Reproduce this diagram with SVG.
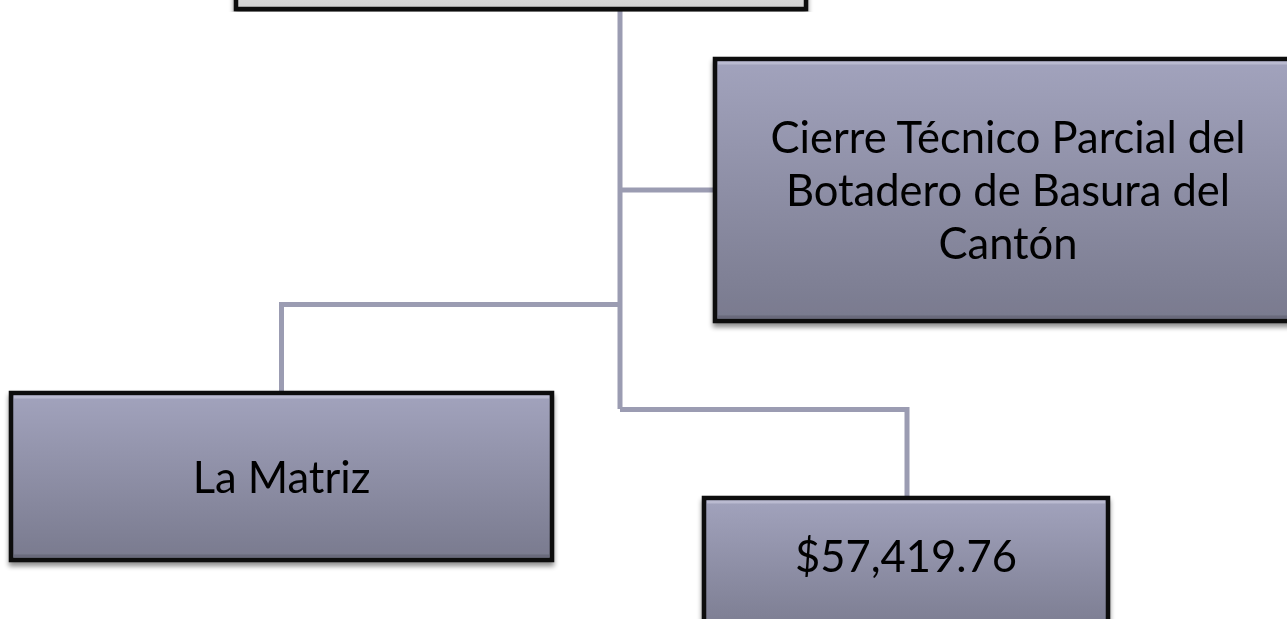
<svg xmlns="http://www.w3.org/2000/svg" width="1287" height="619" viewBox="0 0 1287 619">
<defs>
<linearGradient id="g" x1="0" y1="0" x2="0" y2="1">
<stop offset="0" stop-color="#a2a3bd"/>
<stop offset="1" stop-color="#797a8e"/>
</linearGradient>
<linearGradient id="gt" x1="0" y1="0" x2="0" y2="1">
<stop offset="0" stop-color="#e2e2e2"/>
<stop offset="1" stop-color="#d2d2d2"/>
</linearGradient>
<filter id="sh" x="-5%" y="-5%" width="112%" height="115%">
<feGaussianBlur in="SourceAlpha" stdDeviation="2.5"/>
<feOffset dx="0" dy="4" result="b"/>
<feComponentTransfer><feFuncA type="linear" slope="0.45"/></feComponentTransfer>
<feMerge><feMergeNode/><feMergeNode in="SourceGraphic"/></feMerge>
</filter>
</defs>
<style>
.box{fill:url(#g);stroke:#0a0a0a;stroke-width:4.5}
.bev{fill:none;stroke:#c4c5d8;stroke-width:3;opacity:0.7}
.bevb{fill:none;stroke:#5f6070;stroke-width:3;opacity:0.6}
.lbl{font-family:Lato,"Liberation Sans",sans-serif;font-size:43.5px;fill:#000;text-anchor:middle}
.con{fill:none;stroke:#9b9cb2;stroke-width:5}
</style>
<rect width="1287" height="619" fill="#ffffff"/>
<g id="connectors">
<path class="con" d="M620 10 V409"/>
<path class="con" d="M620 190 H716"/>
<path class="con" d="M620 304.5 H281.5 V393"/>
<path class="con" d="M620 409.5 H907 V498"/>
</g>
<g id="top" filter="url(#sh)">
<rect x="236" y="-20" width="570" height="29" fill="url(#gt)" stroke="#0a0a0a" stroke-width="4.5"/>
</g>
<g id="cierre" filter="url(#sh)">
<rect class="box" x="715" y="59" width="590" height="262"/>
<path class="bev" d="M718 63 H1302"/>
<path class="bevb" d="M718 317 H1302"/>
<text class="lbl"><tspan x="1008" y="153">Cierre Técnico Parcial del</tspan><tspan x="1008" y="206">Botadero de Basura del</tspan><tspan x="1008" y="259">Cantón</tspan></text>
</g>
<g id="matriz" filter="url(#sh)">
<rect class="box" x="11" y="393" width="541" height="167"/>
<path class="bev" d="M14 397 H549"/>
<path class="bevb" d="M14 556 H549"/>
<text class="lbl" x="281.5" y="493">La Matriz</text>
</g>
<g id="monto" filter="url(#sh)">
<rect class="box" x="704" y="498" width="404" height="140"/>
<path class="bev" d="M707 502 H1105"/>
<text class="lbl" x="906" y="572">$57,419.76</text>
</g>
</svg>
